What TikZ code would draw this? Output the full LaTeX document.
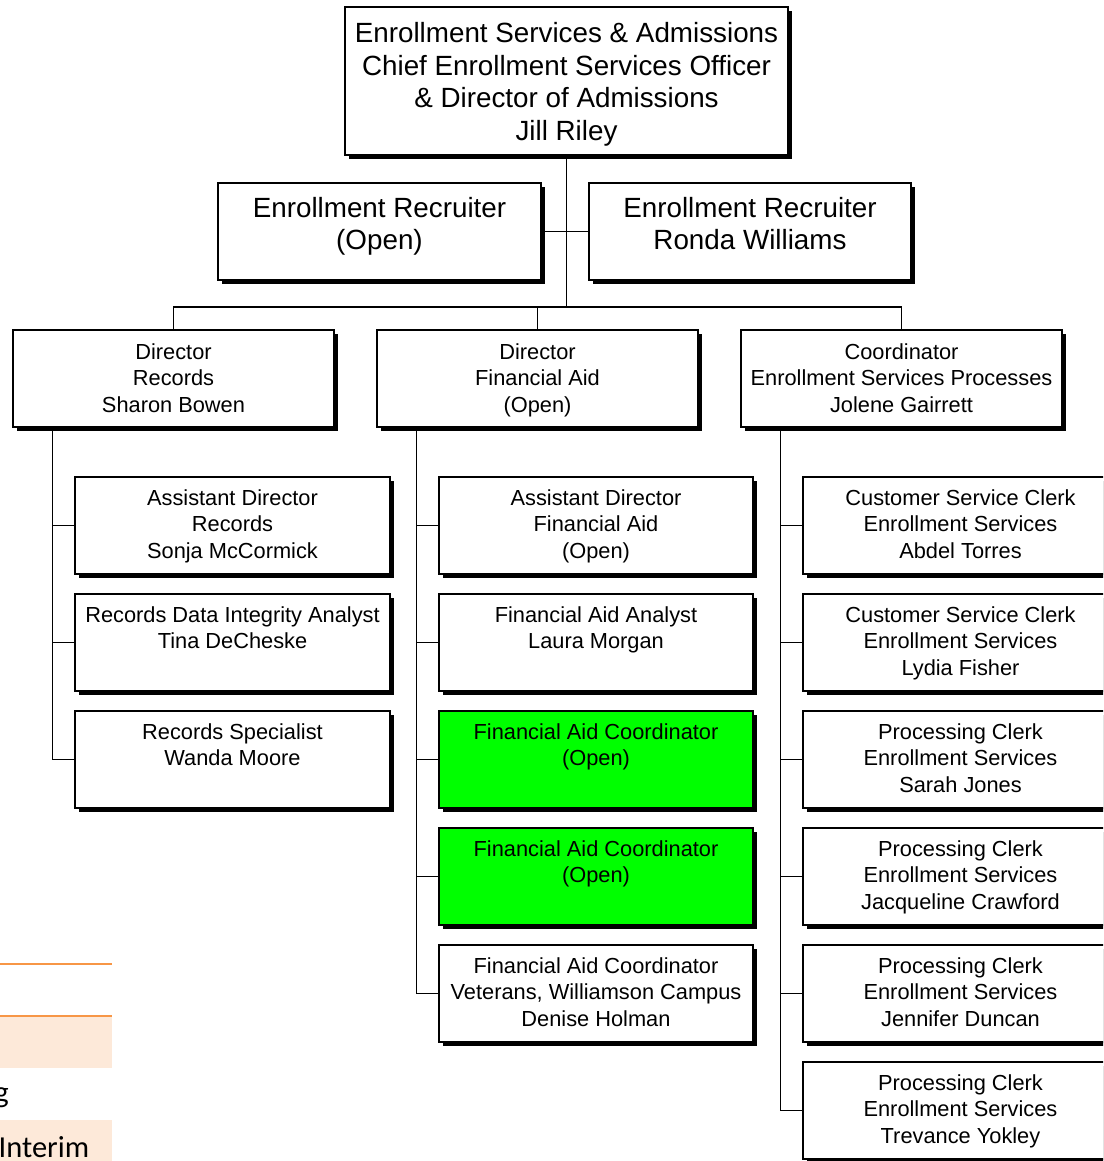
\documentclass[tikz,border=0pt]{standalone}
\usepackage{fontspec}
\setmainfont{Liberation Sans}
\newfontfamily\keyfont{Carlito}
\usetikzlibrary{shadows}
\definecolor{opengreen}{RGB}{0,255,0}
\definecolor{keyorange}{RGB}{247,150,70}
\definecolor{keypeach}{RGB}{253,233,217}
% box text: width, height, first baseline, lines
\newcommand{\celltext}[4]{\parbox[c][#2pt][t]{#1pt}{\centering\rule{0pt}{#3pt}#4}}

\begin{document}
\begin{tikzpicture}[x=1pt, y=-1pt,
    orgbox/.style={draw, line width=1.6pt, fill=white, inner sep=0pt,
      drop shadow={shadow xshift=4pt, shadow yshift=-4pt, fill=black, opacity=1}},
    bigbox/.style={orgbox, font=\fontsize{27.8}{32.5}\selectfont},
    smallbox/.style={orgbox, font=\fontsize{21.8}{26.7}\selectfont},
    openbox/.style={smallbox, fill=opengreen},
    link/.style={line width=1.8pt}]
        \useasboundingbox (0,0) rectangle (1103,1161);
        \clip (0,0) rectangle (1103,1161);
        % Head
        \node[bigbox] (head) at (566.5,81) {\celltext{443}{148}{36}{Enrollment Services \& Admissions\\
          Chief Enrollment Services Officer\\ \& Director of Admissions\\ Jill Riley}};
        % Recruiters
        \node[bigbox] (recopen) at (379.5,231.5) {\celltext{323}{97}{34}{Enrollment Recruiter\\ (Open)}};
        \node[bigbox] (recronda) at (750,231.5) {\celltext{322}{97}{34}{Enrollment Recruiter\\ Ronda Williams}};
        % Directors
        \node[smallbox] (records) at (173.5,378.5) {\celltext{321}{97}{29}{Director\\ Records\\ Sharon Bowen}};
        \node[smallbox] (finaid) at (537.5,378.5) {\celltext{321}{97}{29}{Director\\ Financial Aid\\ (Open)}};
        \node[smallbox] (process) at (901.5,378.5) {\celltext{321}{97}{29}{Coordinator\\ Enrollment Services Processes\\ Jolene Gairrett}};
        % Records staff
        \node[smallbox] (rec1) at (232.5,525.5) {\celltext{315}{97}{28}{Assistant Director\\ Records\\ Sonja McCormick}};
        \node[smallbox] (rec2) at (232.5,642.5) {\celltext{315}{97}{28}{Records Data Integrity Analyst\\ Tina DeCheske}};
        \node[smallbox] (rec3) at (232.5,759.5) {\celltext{315}{97}{28}{Records Specialist\\ Wanda Moore}};
        % Financial aid staff
        \node[smallbox] (fin1) at (596,525.5) {\celltext{314}{97}{28}{Assistant Director\\ Financial Aid\\ (Open)}};
        \node[smallbox] (fin2) at (596,642.5) {\celltext{314}{97}{28}{Financial Aid Analyst\\ Laura Morgan}};
        \node[openbox] (fin3) at (596,759.5) {\celltext{314}{97}{28}{Financial Aid Coordinator\\ (Open)}};
        \node[openbox] (fin4) at (596,876.5) {\celltext{314}{97}{28}{Financial Aid Coordinator\\ (Open)}};
        \node[smallbox] (fin5) at (596,993.5) {\celltext{314}{97}{28}{Financial Aid Coordinator\\ Veterans, Williamson Campus\\ Denise Holman}};
        % Processes staff
        \node[smallbox] (pro1) at (960.5,525.5) {\celltext{315}{97}{28}{Customer Service Clerk\\ Enrollment Services\\ Abdel Torres}};
        \node[smallbox] (pro2) at (960.5,642.5) {\celltext{315}{97}{28}{Customer Service Clerk\\ Enrollment Services\\ Lydia Fisher}};
        \node[smallbox] (pro3) at (960.5,759.5) {\celltext{315}{97}{28}{Processing Clerk\\ Enrollment Services\\ Sarah Jones}};
        \node[smallbox] (pro4) at (960.5,876.5) {\celltext{315}{97}{28}{Processing Clerk\\ Enrollment Services\\ Jacqueline Crawford}};
        \node[smallbox] (pro5) at (960.5,993.5) {\celltext{315}{97}{28}{Processing Clerk\\ Enrollment Services\\ Jennifer Duncan}};
        \node[smallbox] (pro6) at (960.5,1110.5) {\celltext{315}{97}{28}{Processing Clerk\\ Enrollment Services\\ Trevance Yokley}};
        % Links
        \coordinate (bus) at (566.5,307);
        \draw[link] (head.south) -- (bus);
        \draw[link] (recopen.east) -- (recronda.west);
        \draw[link] (records.north) |- (bus) -| (process.north);
        \draw[link] (finaid.north) -- (finaid.north |- bus);
        \foreach \n in {rec1,rec2,rec3}
          \draw[link] ([xshift=-121pt]records.south) |- (\n.west);
        \foreach \n in {fin1,fin2,fin3,fin4,fin5}
          \draw[link] ([xshift=-121pt]finaid.south) |- (\n.west);
        \foreach \n in {pro1,pro2,pro3,pro4,pro5,pro6}
          \draw[link] ([xshift=-121pt]process.south) |- (\n.west);
        % Key, cut off at the left edge
        \fill[keypeach] (0,1016) rectangle (112,1068);
        \fill[keypeach] (0,1120) rectangle (112,1161);
        \draw[keyorange, line width=2pt] (0,964) -- (112,964);
        \draw[keyorange, line width=2pt] (0,1016) -- (112,1016);
        \node[anchor=base east, inner sep=0pt, font=\keyfont\fontsize{30.5}{36}\selectfont] (keyg) at (9,1102) {g};
        \node[anchor=base west, inner sep=0pt, font=\keyfont\fontsize{30.5}{36}\selectfont] (keyinterim) at (-1.5,1157) {Interim};
      \end{tikzpicture}
\end{document}
